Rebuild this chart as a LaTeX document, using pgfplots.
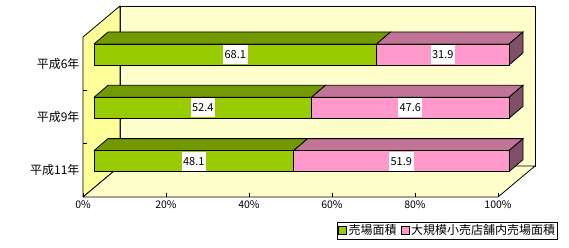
\documentclass[border=0pt]{standalone}
\usepackage{fontspec}
\setmainfont{Noto Sans CJK JP}
\usepackage{pgfplots}
\pgfplotsset{compat=1.18}
\usepackage{pgfplotstable}
\definecolor{wallback}{HTML}{FFFFCC}
\definecolor{wallleft}{HTML}{FFFF99}
\definecolor{cgreen}{HTML}{99CC00}
\definecolor{cgreentop}{HTML}{739900}
\definecolor{cpink}{HTML}{FF99CC}
\definecolor{cpinktop}{HTML}{C07596}
\definecolor{cpinkside}{HTML}{805068}

\pgfplotstableread{
y g p
193.53 68.1 31.9
140.20 52.4 47.6
86.87 48.1 51.9
}\data

\pgfplotsset{base/.style={scale only axis, width=415pt, height=160pt,
  xmin=0, xmax=100, ymin=51, ymax=211, clip=false, no markers,
  every axis plot/.append style={line width=0.8pt, line join=miter}}}

\begin{document}
\begin{tikzpicture}
\begin{axis}[base, name=a1, axis on top,
  axis x line=bottom, axis y line=left, axis line style={draw=none,-},
  xtick={0,20,40,60,80,100}, xticklabels={0\%,20\%,40\%,60\%,80\%,100\%},
  ytick={77.67,131,184.33}, yticklabels={平成11年,平成9年,平成6年},
  tick align=inside, major tick length=4pt,
  ytick style={draw=none}, xtick style={draw=black, line width=0.8pt},
  xticklabel style={font=\fontsize{10.5}{10.5}\selectfont},
  yticklabel style={font=\fontsize{12}{12}\selectfont},
  legend style={at={(1.1446,-0.15625)}, anchor=north east, draw=black, line width=0.8pt,
    font=\fontsize{12}{12}\selectfont, inner sep=1pt, nodes={inner sep=1.5pt},
    /tikz/every even column/.append style={column sep=3pt}},
  legend columns=2,
  legend image code/.code={\draw[#1, draw=black, line width=0.6pt] (0pt,-4pt) rectangle (8pt,4pt);},
]
% canvas
\path (axis cs:-20,0) rectangle (axis cs:117.108,248);
% walls
\addplot[fill=wallback, draw=black, forget plot] coordinates {(8.916,82)(108.916,82)(108.916,242)(8.916,242)(8.916,82)};
\addplot[fill=wallleft, draw=black, forget plot] coordinates {(0,51)(0,211)(8.916,242)(8.916,82)(0,51)};
\addplot[fill=wallback, draw=black, forget plot] coordinates {(0,51)(100,51)(108.916,82)(8.916,82)(0,51)};
% separator ticks
\addplot[draw=black, forget plot] coordinates {(0,104.33)(0.964,104.33)};
\addplot[draw=black, forget plot] coordinates {(0,157.67)(0.964,157.67)};
% bar 1 (68.1 / 31.9)
\addplot[fill=cgreentop, draw=black, forget plot] coordinates {(2.651,204.03)(70.751,204.03)(74.124,216.03)(6.024,216.03)(2.651,204.03)};
\addplot[fill=cpinktop, draw=black, forget plot] coordinates {(70.751,204.03)(102.651,204.03)(106.024,216.03)(74.124,216.03)(70.751,204.03)};
\addplot[fill=cpinkside, draw=black, forget plot] coordinates {(102.651,183.03)(106.024,195.03)(106.024,216.03)(102.651,204.03)(102.651,183.03)};
% bar 2 (52.4 / 47.6)
\addplot[fill=cgreentop, draw=black, forget plot] coordinates {(2.651,150.7)(55.051,150.7)(58.424,162.7)(6.024,162.7)(2.651,150.7)};
\addplot[fill=cpinktop, draw=black, forget plot] coordinates {(55.051,150.7)(102.651,150.7)(106.024,162.7)(58.424,162.7)(55.051,150.7)};
\addplot[fill=cpinkside, draw=black, forget plot] coordinates {(102.651,129.7)(106.024,141.7)(106.024,162.7)(102.651,150.7)(102.651,129.7)};
% bar 3 (48.1 / 51.9)
\addplot[fill=cgreentop, draw=black, forget plot] coordinates {(2.651,97.37)(50.751,97.37)(54.124,109.37)(6.024,109.37)(2.651,97.37)};
\addplot[fill=cpinktop, draw=black, forget plot] coordinates {(50.751,97.37)(102.651,97.37)(106.024,109.37)(54.124,109.37)(50.751,97.37)};
\addplot[fill=cpinkside, draw=black, forget plot] coordinates {(102.651,76.37)(106.024,88.37)(106.024,109.37)(102.651,97.37)(102.651,76.37)};
\addlegendimage{fill=cgreen}
\addlegendentry{売場面積}
\addlegendimage{fill=cpink}
\addlegendentry{大規模小売店舗内売場面積}
\end{axis}

\begin{axis}[base, at={(a1.south west)}, anchor=south west, hide axis, xbar stacked, bar width=21pt]
\addplot[draw=none, fill=none] table[x expr=2.651, y=y]{\data};
\addplot[fill=cgreen, draw=black] table[x=g, y=y]{\data};
\addplot[fill=cpink, draw=black] table[x=p, y=y]{\data};
\end{axis}

\begin{axis}[base, at={(a1.south west)}, anchor=south west, hide axis]
\addplot[draw=none, nodes near coords, point meta=explicit symbolic,
  nodes near coords style={fill=white, text=black, anchor=center, inner xsep=1.5pt, inner ysep=0pt, minimum height=19pt, font=\fontsize{11}{11}\selectfont}]
  table[x expr=2.651+\thisrow{g}/2, y=y, meta=g]{\data};
\addplot[draw=none, nodes near coords, point meta=explicit symbolic,
  nodes near coords style={fill=white, text=black, anchor=center, inner xsep=1.5pt, inner ysep=0pt, minimum height=19pt, font=\fontsize{11}{11}\selectfont}]
  table[x expr=2.651+\thisrow{g}+\thisrow{p}/2, y=y, meta=p]{\data};
\end{axis}
\end{tikzpicture}
\end{document}
